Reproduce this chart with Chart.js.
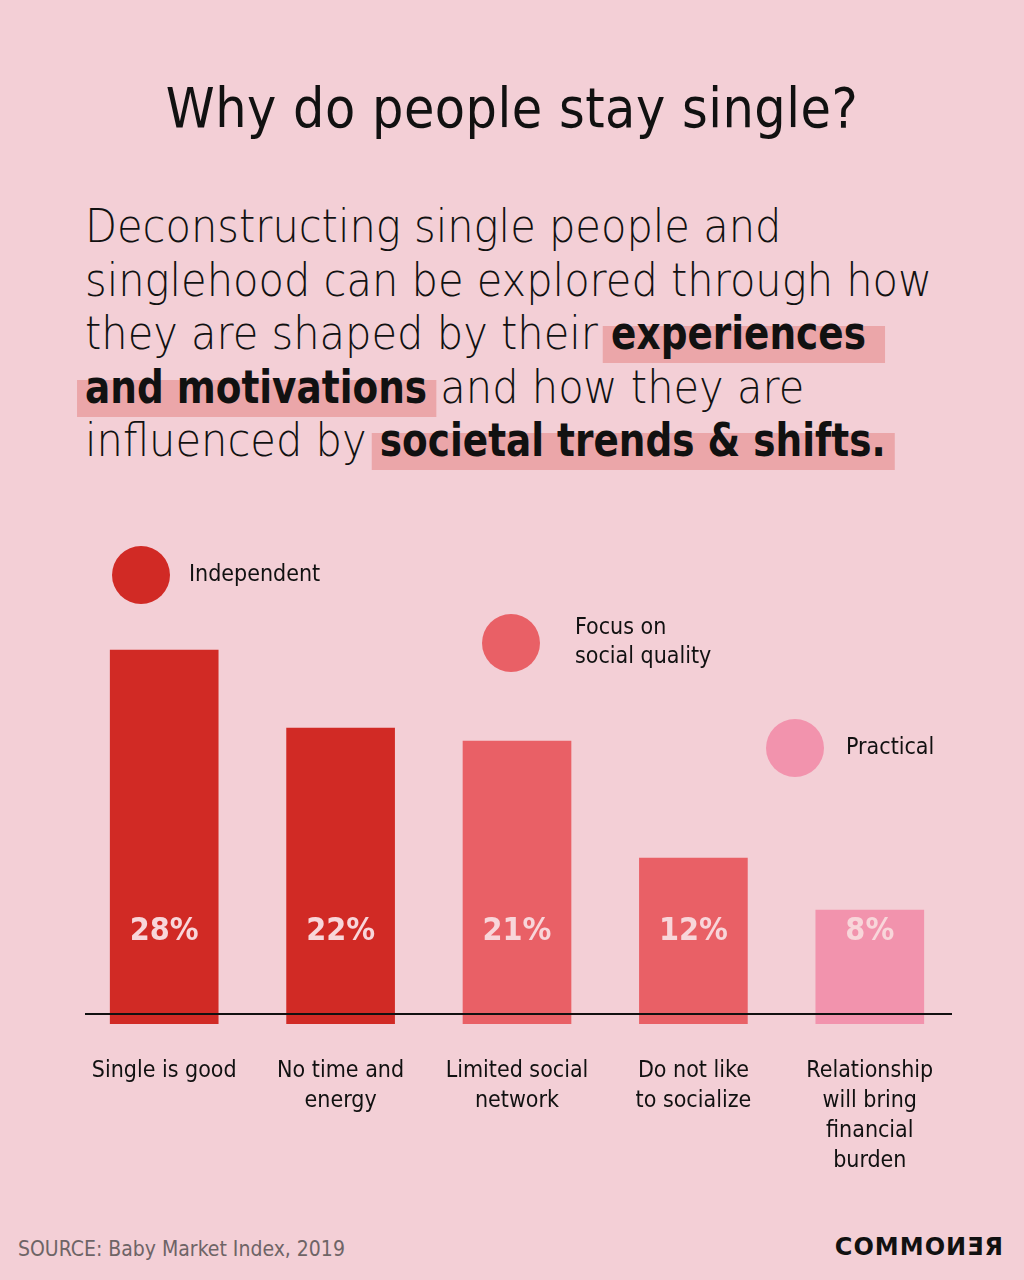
<!DOCTYPE html>
<html>
<head>
<meta charset="utf-8">
<script src="https://cdn.jsdelivr.net/npm/chart.js@4"></script>
<style>
  html,body{margin:0;padding:0;}
  body{width:1024px;height:1280px;background:#f3cfd6;position:relative;overflow:hidden;
    font-family:"DejaVu Sans Condensed","Noto Sans",sans-serif;color:#111;}
  h1{position:absolute;top:76px;left:0;width:1024px;margin:0;text-align:center;font-size:55px;font-weight:500;letter-spacing:0.5px;}
  .lead{position:absolute;top:199px;left:85px;font-family:"DejaVu Sans",sans-serif;font-size:47px;line-height:53.5px;font-weight:200;margin:0;
    white-space:nowrap;transform:scaleX(0.885);transform-origin:0 0;}
  .hl{font-family:"DejaVu Sans Condensed",sans-serif;font-weight:700;
    background:linear-gradient(to bottom,transparent 36%,#eba6a9 36%,#eba6a9 100%);
    padding:0 10px 3px 9px;margin:0 -10px 0 -9px;}
  .hl.a{padding-right:22px;margin-right:-22px;}
  #wrap{position:absolute;left:0;top:520px;width:1024px;height:680px;}
  .src{position:absolute;left:18px;top:1237px;font-size:21px;color:#6e6466;font-weight:300;}
  .logo{position:absolute;right:20px;top:1233px;font-family:"DejaVu Sans",sans-serif;font-weight:700;font-size:24px;letter-spacing:1px;color:#111;}
</style>
</head>
<body>
<h1>Why do people stay single?</h1>
<p class="lead">Deconstructing single people and<br>singlehood can be explored through how<br>they are shaped by their <span class="hl a">experiences</span><br><span class="hl">and motivations</span> and how they are<br>influenced by <span class="hl">societal trends &amp; shifts.</span></p>
<div id="wrap"><canvas id="c"></canvas></div>
<div class="src">SOURCE: Baby Market Index, 2019</div>
<div class="logo">COMMOИƎЯ</div>
<script>
const FONT = '"DejaVu Sans Condensed","Noto Sans",sans-serif';
const reasons = [['Single is good'], ['No time and','energy'], ['Limited social','network'], ['Do not like','to socialize'], ['Relationship','will bring','financial','burden']];
const shares = [28, 22, 21, 12, 8];
const groups = ['Independent', 'Focus on social quality', 'Practical'];
const groupOf = [0, 0, 1, 1, 2];
const groupColors = ['#d12a25', '#e96066', '#f293ad'];

// legend bubbles placed by hand, like the poster
const legendSpots = [
  {x:141, y:55, lines:['Independent']},
  {x:511, y:123, lines:['Focus on','social quality']},
  {x:795, y:228, lines:['Practical']}
];

const posterBits = {
  id:'posterBits',
  afterDatasetsDraw(chart){
    const ctx = chart.ctx, y0 = chart.scales.y.getPixelForValue(0);
    const meta = chart.getDatasetMeta(0);
    ctx.save();
    // percent labels inside bars
    ctx.font = '700 32px ' + FONT;
    ctx.fillStyle = '#f8d6da';
    ctx.textAlign = 'center';
    ctx.textBaseline = 'middle';
    meta.data.forEach((bar, i)=>{
      ctx.fillText(shares[i] + '%', bar.x, y0 - 82);
    });
    // baseline
    ctx.strokeStyle = '#111';
    ctx.lineWidth = 2;
    ctx.beginPath();
    ctx.moveTo(85, y0);
    ctx.lineTo(952, y0);
    ctx.stroke();
    // legend bubbles
    legendSpots.forEach((s, g)=>{
      ctx.fillStyle = groupColors[g];
      ctx.beginPath();
      ctx.arc(s.x, s.y, 29, 0, Math.PI*2);
      ctx.fill();
      ctx.fillStyle = '#111';
      ctx.font = '500 23px ' + FONT;
      ctx.textAlign = 'left';
      const off = (s.lines.length - 1) * 14.5;
      s.lines.forEach((t, k)=> ctx.fillText(t, s.x + 48 + (g===1?16:g===2?3:0), s.y - off + k*29));
    });
    ctx.restore();
  }
};

new Chart(document.getElementById('c'), {
  type:'bar',
  data:{
    labels: reasons,
    datasets:[{
      data: shares,
      base: -0.77,
      backgroundColor: shares.map((v,i)=>groupColors[groupOf[i]]),
      barThickness: 108,
      borderWidth: 0
    }]
  },
  options:{
    responsive:true,
    maintainAspectRatio:false,
    animation:false,
    layout:{padding:{top:104, left:76, right:66, bottom:16}},
    plugins:{legend:{display:false}, tooltip:{enabled:false}},
    scales:{
      x:{
        grid:{display:false, drawTicks:false},
        border:{display:false},
        afterFit:(s)=>{ s.height = 160; },
        ticks:{color:'#111', padding:32, maxRotation:0, autoSkip:false, font:{family:FONT, size:23, weight:'500', lineHeight:1.3}}
      },
      y:{display:false, min:-0.77, max:30}
    }
  },
  plugins:[posterBits]
});
</script>
</body>
</html>
